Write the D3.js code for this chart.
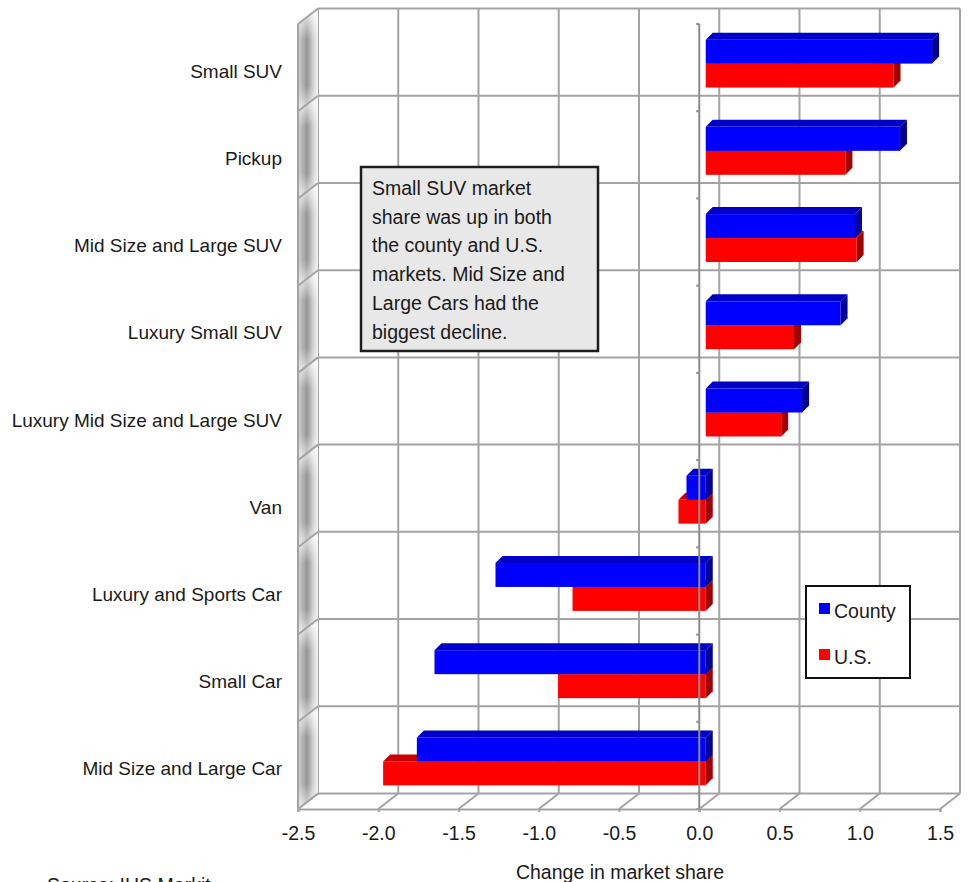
<!DOCTYPE html>
<html>
<head>
<meta charset="utf-8">
<script src="https://cdn.jsdelivr.net/npm/d3@7"></script>
<style>
    body { margin: 0; background: #fff; }
    svg text { font-family: "Liberation Sans", Arial, sans-serif; fill: #1a1a1a; }
</style>
</head>
<body>
<div id="chart"><svg></svg></div>
<script>
// data
var categories = ["Small SUV", "Pickup", "Mid Size and Large SUV", "Luxury Small SUV",
    "Luxury Mid Size and Large SUV", "Van", "Luxury and Sports Car", "Small Car", "Mid Size and Large Car"];
var county = [1.41, 1.21, 0.93, 0.84, 0.60, -0.12, -1.31, -1.69, -1.80];
var us = [1.17, 0.87, 0.94, 0.55, 0.47, -0.17, -0.83, -0.92, -2.01];
var seriesNames = ["County", "U.S."];
var xTicks = [-2.5, -2.0, -1.5, -1.0, -0.5, 0.0, 0.5, 1.0, 1.5];
var note = ["Small SUV market", "share was up in both", "the county and U.S.",
    "markets. Mid Size and", "Large Cars had the", "biggest decline."];

var W = 976, H = 882;
// front plane
var L = 298, R = 940, T = 24, B = 809;
// back plane offset, bar plane offset, bar depth
var BX = 20, BY = -15.5;
var PX = 6.5, PY = -4;
var DX = 7, DY = 7;

var colors = {
    "County": { front: "#0000ff", top: "#0000c8", side: "#000098" },
    "U.S.": { front: "#ff0000", top: "#c80000", side: "#a00000" }
};

var x = d3.scaleLinear().domain([-2.5, 1.5]).range([L, R]);
var y = d3.scaleBand().domain(categories).range([T, B]);
var ySub = d3.scaleBand().domain(seriesNames).range([0, y.bandwidth()])
    .paddingInner(0).paddingOuter(0.82);

var svg = d3.select("#chart svg").attr("width", W).attr("height", H);
var defs = svg.append("defs");

var g1 = defs.append("linearGradient").attr("id", "wallH");
g1.append("stop").attr("offset", 0).attr("stop-color", "#d0d0d0");
g1.append("stop").attr("offset", 0.45).attr("stop-color", "#969696");
g1.append("stop").attr("offset", 0.8).attr("stop-color", "#d8d8d8");
g1.append("stop").attr("offset", 1).attr("stop-color", "#f2f2f2");

var g2 = defs.append("linearGradient").attr("id", "wallV")
    .attr("x1", 0).attr("y1", 0).attr("x2", 0).attr("y2", 1);
g2.append("stop").attr("offset", 0).attr("stop-color", "#fff").attr("stop-opacity", 0.9);
g2.append("stop").attr("offset", 0.3).attr("stop-color", "#fff").attr("stop-opacity", 0);
g2.append("stop").attr("offset", 0.75).attr("stop-color", "#fff").attr("stop-opacity", 0);
g2.append("stop").attr("offset", 1).attr("stop-color", "#fff").attr("stop-opacity", 0.7);

var grid = "#a3a3a3";

// back wall grid
var gBack = svg.append("g").attr("class", "back");
gBack.selectAll("line.v").data(xTicks).enter().append("line")
    .attr("x1", function(d) { return x(d) + BX; })
    .attr("x2", function(d) { return x(d) + BX; })
    .attr("y1", T + BY).attr("y2", B + BY)
    .attr("stroke", grid).attr("stroke-width", 2);
var bounds = categories.map(function(c) { return y(c); }).concat([B]);
gBack.selectAll("line.h").data(bounds).enter().append("line")
    .attr("x1", L + BX).attr("x2", R + BX)
    .attr("y1", function(d) { return d + BY; })
    .attr("y2", function(d) { return d + BY; })
    .attr("stroke", grid).attr("stroke-width", 2);

// floor
var gFloor = svg.append("g").attr("class", "floor");
gFloor.selectAll("line").data(xTicks).enter().append("line")
    .attr("x1", function(d) { return x(d); })
    .attr("x2", function(d) { return x(d) + BX; })
    .attr("y1", B).attr("y2", B + BY)
    .attr("stroke", grid).attr("stroke-width", 2);

// left wall panels
var gWall = svg.append("g").attr("class", "wall");
categories.forEach(function(c) {
    var y0 = y(c), y1 = y(c) + y.bandwidth();
    var pts = [[L, y0], [L + BX, y0 + BY], [L + BX, y1 + BY], [L, y1]];
    gWall.append("polygon").attr("points", pts.join(" ")).attr("fill", "url(#wallH)");
    gWall.append("polygon").attr("points", pts.join(" ")).attr("fill", "url(#wallV)");
    gWall.append("line")
        .attr("x1", L).attr("y1", y0).attr("x2", L + BX).attr("y2", y0 + BY)
        .attr("stroke", grid).attr("stroke-width", 2);
});
gWall.append("line").attr("x1", L).attr("x2", L).attr("y1", T).attr("y2", B)
    .attr("stroke", grid).attr("stroke-width", 2);
gWall.append("line").attr("x1", L).attr("y1", B).attr("x2", L + BX).attr("y2", B + BY)
    .attr("stroke", grid).attr("stroke-width", 2);

// bars
var gData = svg.append("g").attr("class", "data");
categories.forEach(function(c, i) {
    // red first so blue covers its top face
    [["U.S.", us[i]], ["County", county[i]]].forEach(function(s) {
        var name = s[0], v = s[1], col = colors[name];
        var xa = Math.min(x(v), x(0)) + PX, xb = Math.max(x(v), x(0)) + PX;
        var ya = y(c) + ySub(name) + PY, h = ySub.bandwidth();
        var bar = gData.append("g");
        bar.append("polygon")
            .attr("points", [[xa, ya], [xa + DX, ya - DY], [xb + DX, ya - DY], [xb, ya]].join(" "))
            .attr("fill", col.top);
        bar.append("polygon")
            .attr("points", [[xb, ya], [xb + DX, ya - DY], [xb + DX, ya + h - DY], [xb, ya + h]].join(" "))
            .attr("fill", col.side);
        bar.append("rect")
            .attr("x", xa).attr("y", ya).attr("width", xb - xa).attr("height", h)
            .attr("fill", col.front);
    });
});

// zero axis line with small ticks
var gZero = svg.append("g").attr("class", "zero");
gZero.append("line").attr("x1", x(0)).attr("x2", x(0)).attr("y1", T).attr("y2", B + 3)
    .attr("stroke", "#8c8c8c").attr("stroke-width", 2);
gZero.selectAll("line.t").data(bounds).enter().append("line")
    .attr("x1", x(0) - 3).attr("x2", x(0))
    .attr("y1", function(d) { return d; }).attr("y2", function(d) { return d; })
    .attr("stroke", "#8c8c8c").attr("stroke-width", 2);

// x axis
var gxAxis = svg.append("g").attr("class", "x-axis axis")
    .attr("transform", "translate(0," + B + ")")
    .call(d3.axisBottom(x).tickValues(xTicks)
        .tickFormat(function(d) { return d.toFixed(1); })
        .tickSize(3).tickSizeOuter(3).tickPadding(14));
gxAxis.selectAll("path, line").attr("stroke", grid).attr("stroke-width", 2);
gxAxis.selectAll("text").attr("font-size", 19.5).attr("fill", "#1a1a1a")
    .style("font-family", "'Liberation Sans', Arial, sans-serif");

// category labels
svg.append("g").attr("class", "y-labels").selectAll("text").data(categories).enter().append("text")
    .attr("x", 282)
    .attr("y", function(d) { return y(d) + y.bandwidth() / 2 + 10; })
    .attr("text-anchor", "end").attr("font-size", 19)
    .text(function(d) { return d; });

// axis title and source
svg.append("text").attr("x", 620).attr("y", 879).attr("text-anchor", "middle")
    .attr("font-size", 19.5).text("Change in market share");
svg.append("text").attr("x", 47).attr("y", 892).attr("font-size", 19.5).text("Source: IHS Markit");

// annotation box
var gNote = svg.append("g").attr("class", "note");
gNote.append("rect").attr("x", 361).attr("y", 167).attr("width", 237).attr("height", 184)
    .attr("fill", "#e8e8e8").attr("stroke", "#1e1e1e").attr("stroke-width", 2.5);
gNote.selectAll("text").data(note).enter().append("text")
    .attr("x", 372).attr("y", function(d, i) { return 195 + i * 28.7; })
    .attr("font-size", 19.5).text(function(d) { return d; });

// legend
var gLegend = svg.append("g").attr("class", "legend");
gLegend.append("rect").attr("x", 806).attr("y", 586).attr("width", 104).attr("height", 92)
    .attr("fill", "#fff").attr("stroke", "#111").attr("stroke-width", 2);
seriesNames.forEach(function(n, i) {
    gLegend.append("rect").attr("x", 819).attr("y", 603 + i * 46).attr("width", 11).attr("height", 11)
        .attr("fill", colors[n].front);
    gLegend.append("text").attr("x", 834).attr("y", 618 + i * 46).attr("font-size", 19.5).text(n);
});
</script>
</body>
</html>
